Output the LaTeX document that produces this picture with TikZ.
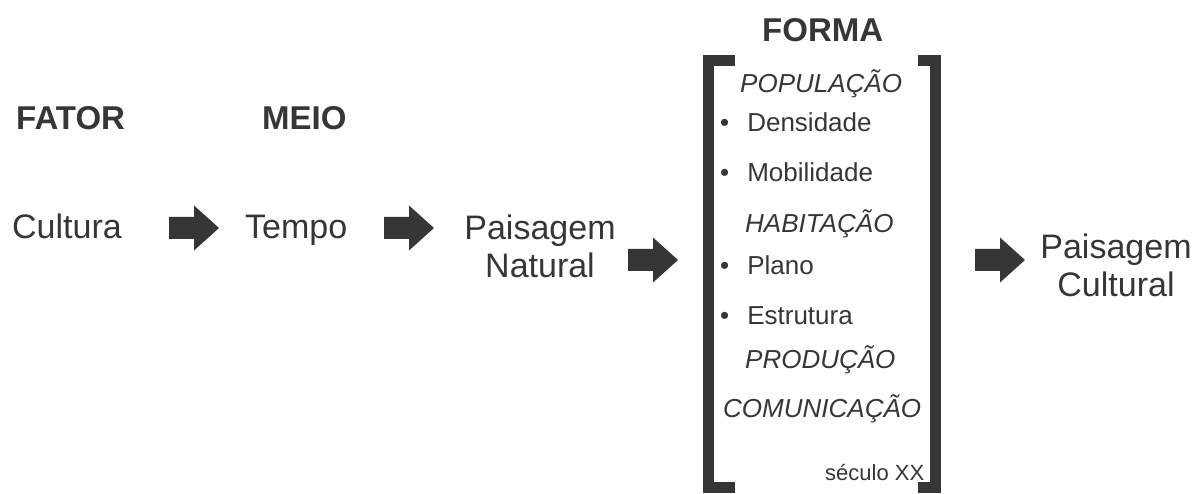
\documentclass[tikz,border=0pt]{standalone}
\usepackage{fontspec}
\setmainfont{Liberation Sans}
\definecolor{cinza}{HTML}{363636}
% seta larga: (#1,#2) = base da ponta, centro
\newcommand{\seta}[2]{\fill[cinza] (#1,#2) ++(-25,-11) -- ++(25,0) -- ++(0,-11.5) -- ++(25,22.5) -- ++(-25,22.5) -- ++(0,-11.5) -- ++(-25,0) -- cycle;}

\begin{document}
\begin{tikzpicture}[x=1pt, y=-1pt,
  every node/.style={inner sep=0pt, text=cinza},
  titulo/.style={font=\bfseries\fontsize{33}{40}\selectfont, anchor=base west},
  texto/.style={font=\fontsize{34}{38}\selectfont},
  grupo/.style={font=\itshape\fontsize{26}{30}\selectfont, anchor=base west},
  item/.style={font=\fontsize{26}{30}\selectfont, anchor=base west}]
\useasboundingbox (0,0) rectangle (1197,494);

\node[titulo] (fator) at (16,130) {FATOR};
\node[titulo] (meio) at (262,130) {MEIO};
\node[titulo] (forma) at (762,42) {FORMA};

\node[texto, anchor=base west] (cultura) at (12,239) {Cultura};
\node[texto, anchor=base west] (tempo) at (245,239) {Tempo};
\node[texto, align=center, anchor=base] (natural) at (540,278) {Paisagem\\Natural};
\node[texto, align=center, anchor=base] (cultural) at (1116,297) {Paisagem\\Cultural};

\seta{194}{228}
\seta{409}{228}
\seta{653}{260}
\seta{1000}{260}

% colchetes
\draw[cinza, line width=11pt, line join=miter] (735,60.5) -- (708.5,60.5) -- (708.5,487.5) -- (735,487.5);
\draw[cinza, line width=11pt, line join=miter] (918,60.5) -- (935,60.5) -- (935,487.5) -- (918,487.5);

\node[grupo] (populacao) at (740,93) {POPULAÇÃO};
\node[item] (densidade) at (720,132) {\textbullet\hspace{18pt}Densidade};
\node[item] (mobilidade) at (720,182) {\textbullet\hspace{18pt}Mobilidade};
\node[grupo] (habitacao) at (745,233) {HABITAÇÃO};
\node[item] (plano) at (720,275) {\textbullet\hspace{18pt}Plano};
\node[item] (estrutura) at (720,325) {\textbullet\hspace{18pt}Estrutura};
\node[grupo] (producao) at (745,368) {PRODUÇÃO};
\node[grupo] (comunicacao) at (723,417) {COMUNICAÇÃO};
\node[item, font=\fontsize{22}{26}\selectfont] (seculo) at (825,480) {século XX};

\end{tikzpicture}
\end{document}
